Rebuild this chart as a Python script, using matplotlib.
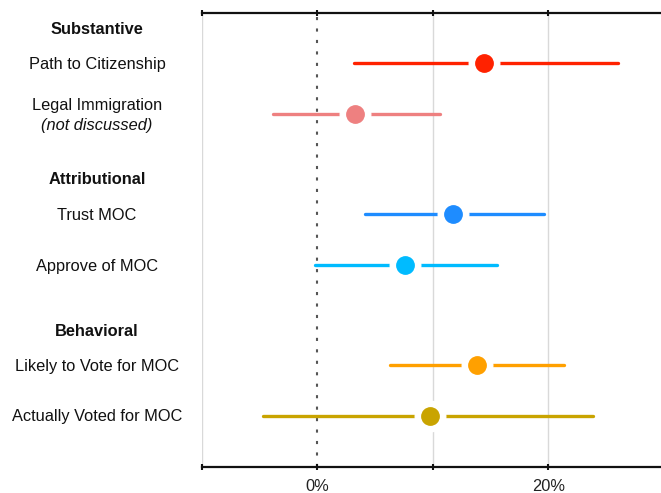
import matplotlib
matplotlib.use("Agg")
import matplotlib.pyplot as plt
from matplotlib.transforms import blended_transform_factory

plt.rcParams['font.family'] = ['Liberation Sans', 'DejaVu Sans']

# ---- data ----
categories = ["Path to Citizenship", "Legal Immigration", "Trust MOC",
              "Approve of MOC", "Likely to Vote for MOC", "Actually Voted for MOC"]
estimates = [14.4, 3.3, 11.8, 7.6, 13.8, 9.8]
lower = [3.2, -3.8, 4.1, -0.2, 6.3, -4.7]
upper = [26.0, 10.6, 19.6, 15.6, 21.4, 23.9]
groups = ["Substantive", "Attributional", "Behavioral"]
xticks = [-10, 0, 10, 20]
xticklabels = ["", "0%", "", "20%"]

# ---- layout / style ----
colors = ["#FF2200", "#EE8080", "#1E8CFF", "#00BBFF", "#FFA000", "#C9A400"]
row_y = [63.5, 114, 214.5, 265.5, 365.5, 415.7]
group_y = [30, 180, 331.5]
W, H = 661, 493

fig = plt.figure(figsize=(W / 100, H / 100), dpi=100)
ax = fig.add_axes([201.7 / W, 1 - 466.7 / H, (661 - 201.7) / W, (466.7 - 13.5) / H])
ax.set_xlim(-10, -10 + (661 - 201.7) / 11.55)
ax.set_ylim(466.7, 13.5)

for g in [-10, 10, 20]:
    ax.axvline(g, color="#d9d9d9", lw=1.0, zorder=0)
ax.axvline(0, color="#555555", lw=1.5, ls=(0, (1.5, 4)), zorder=1)

for y, est, lo, hi, c in zip(row_y, estimates, lower, upper, colors):
    ax.plot([lo, hi], [y, y], color=c, lw=2.4, solid_capstyle="round", zorder=2)
    ax.plot([est], [y], marker="o", ms=22, color="white", mec="white", zorder=3)
    ax.plot([est], [y], marker="o", ms=12.5, color=c, mec=c, zorder=4)

for s in ["left", "right"]:
    ax.spines[s].set_visible(False)
for s in ["top", "bottom"]:
    ax.spines[s].set_linewidth(1.6)
    ax.spines[s].set_color("#111111")

ax.set_xticks(xticks)
ax.set_xticklabels(xticklabels, fontsize=11.8, color="#222222")
ax.set_xlim(-10, -10 + (661 - 201.7) / 11.55)
ax.tick_params(axis="x", direction="inout", length=5, width=1.5, top=True,
               bottom=True, pad=6, color="#111111")
ax.set_yticks([])

tr = blended_transform_factory(fig.transFigure, ax.transData)
xc = 97 / W
fs = 11.8
for lab, y in zip(categories, row_y):
    if lab == "Legal Immigration":
        fig.text(xc, y - 8, lab, transform=tr, ha="center", va="center", fontsize=fs, color="#111111")
        fig.text(xc, y + 12, "(not discussed)", transform=tr, ha="center", va="center",
                 fontsize=fs, style="italic", color="#111111")
    else:
        fig.text(xc, y + 1, lab, transform=tr, ha="center", va="center", fontsize=fs, color="#111111")
for g, y in zip(groups, group_y):
    fig.text(xc, y, g, transform=tr, ha="center", va="center", fontsize=fs,
             fontweight="bold", color="#111111")

fig.savefig("out.png", dpi=100)
